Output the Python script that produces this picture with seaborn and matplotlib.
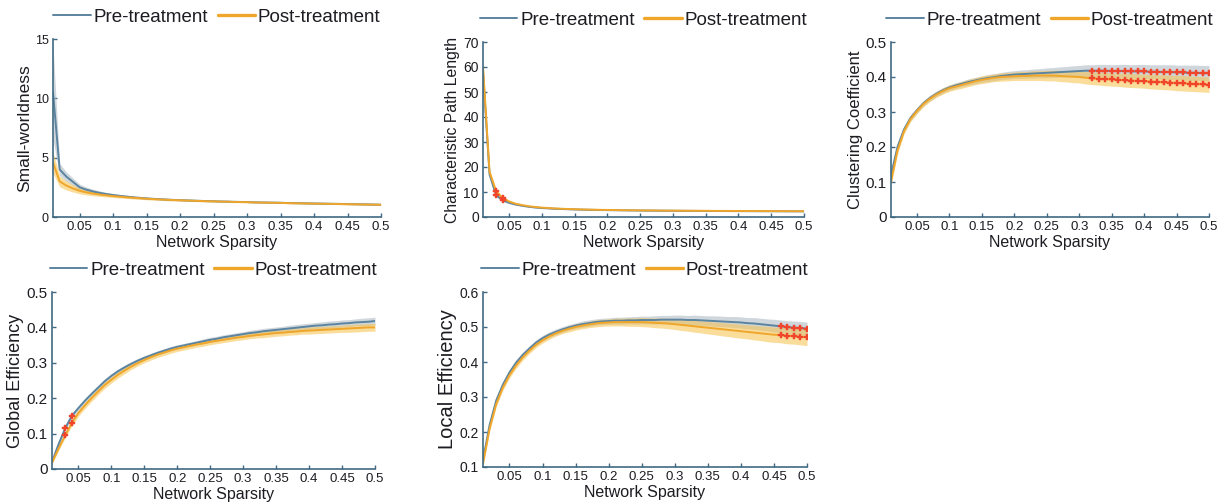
import numpy as np
import pandas as pd
import matplotlib
matplotlib.use("Agg")
import matplotlib.pyplot as plt
from matplotlib.lines import Line2D
import seaborn as sns

# ---------------- data ----------------
sparsity = [round(0.01 * i, 2) for i in range(1, 51)]

sw_pre = [10.5, 4.0, 3.4, 2.95, 2.5, 2.3, 2.15, 2.03, 1.93, 1.85,
          1.78, 1.72, 1.66, 1.61, 1.57, 1.53, 1.50, 1.47, 1.44, 1.42,
          1.40, 1.38, 1.36, 1.34, 1.33, 1.31, 1.30, 1.28, 1.27, 1.26,
          1.24, 1.23, 1.22, 1.21, 1.20, 1.18, 1.17, 1.16, 1.15, 1.14,
          1.13, 1.12, 1.11, 1.10, 1.09, 1.08, 1.07, 1.06, 1.05, 1.04]
sw_post = [4.6, 3.0, 2.65, 2.4, 2.2, 2.07, 1.97, 1.89, 1.82, 1.76,
           1.71, 1.66, 1.62, 1.58, 1.54, 1.51, 1.48, 1.45, 1.43, 1.41,
           1.39, 1.37, 1.35, 1.33, 1.32, 1.30, 1.29, 1.27, 1.26, 1.25,
           1.23, 1.22, 1.21, 1.20, 1.19, 1.17, 1.16, 1.15, 1.14, 1.13,
           1.12, 1.11, 1.10, 1.09, 1.08, 1.07, 1.06, 1.05, 1.04, 1.03]
sw_pre_sd = [4.0, 0.5, 0.4, 0.32, 0.26, 0.22, 0.19, 0.16, 0.14, 0.12,
             0.11, 0.10, 0.10, 0.09, 0.09, 0.08, 0.08, 0.08, 0.07, 0.07,
             0.07, 0.07, 0.06, 0.06, 0.06, 0.06, 0.06, 0.06, 0.05, 0.05,
             0.05, 0.05, 0.05, 0.05, 0.05, 0.05, 0.05, 0.05, 0.05, 0.05,
             0.05, 0.05, 0.05, 0.05, 0.05, 0.05, 0.05, 0.05, 0.05, 0.05]
sw_post_sd = [0.9, 0.45, 0.38, 0.3, 0.25, 0.21, 0.18, 0.15, 0.13, 0.12,
              0.11, 0.10, 0.10, 0.09, 0.09, 0.08, 0.08, 0.08, 0.07, 0.07,
              0.07, 0.07, 0.06, 0.06, 0.06, 0.06, 0.06, 0.06, 0.05, 0.05,
              0.05, 0.05, 0.05, 0.05, 0.05, 0.05, 0.05, 0.05, 0.05, 0.05,
              0.05, 0.05, 0.05, 0.05, 0.05, 0.05, 0.05, 0.05, 0.05, 0.05]

pl_pre = [58.0, 17.0, 8.8, 6.7, 5.7, 5.0, 4.5, 4.1, 3.8, 3.6,
          3.45, 3.3, 3.2, 3.1, 3.02, 2.95, 2.89, 2.84, 2.79, 2.75,
          2.71, 2.68, 2.65, 2.62, 2.59, 2.57, 2.55, 2.53, 2.51, 2.49,
          2.47, 2.46, 2.44, 2.43, 2.41, 2.40, 2.39, 2.38, 2.36, 2.35,
          2.34, 2.33, 2.32, 2.31, 2.30, 2.29, 2.28, 2.27, 2.26, 2.25]
pl_post = [60.0, 18.0, 10.3, 7.6, 6.2, 5.3, 4.75, 4.3, 4.0, 3.75,
           3.58, 3.42, 3.3, 3.2, 3.11, 3.04, 2.97, 2.91, 2.86, 2.82,
           2.78, 2.74, 2.71, 2.68, 2.65, 2.63, 2.61, 2.58, 2.56, 2.55,
           2.53, 2.51, 2.50, 2.48, 2.47, 2.45, 2.44, 2.43, 2.42, 2.40,
           2.39, 2.38, 2.37, 2.36, 2.35, 2.34, 2.33, 2.32, 2.31, 2.30]
pl_pre_sd = [3.0, 1.2, 0.8, 0.5, 0.4, 0.3, 0.25, 0.2, 0.18, 0.16,
             0.15, 0.14, 0.13, 0.12, 0.11, 0.1, 0.1, 0.1, 0.09, 0.09,
             0.09, 0.09, 0.08, 0.08, 0.08, 0.08, 0.08, 0.08, 0.07, 0.07,
             0.07, 0.07, 0.07, 0.07, 0.07, 0.07, 0.07, 0.07, 0.07, 0.07,
             0.07, 0.07, 0.07, 0.07, 0.07, 0.07, 0.07, 0.07, 0.07, 0.07]
pl_post_sd = pl_pre_sd

cc_pre = [0.12, 0.20, 0.25, 0.283, 0.305, 0.325, 0.34, 0.352, 0.362, 0.370,
          0.376, 0.381, 0.386, 0.390, 0.394, 0.397, 0.400, 0.403, 0.405, 0.407,
          0.408, 0.409, 0.410, 0.411, 0.412, 0.413, 0.414, 0.415, 0.416, 0.417,
          0.418, 0.418, 0.418, 0.418, 0.417, 0.417, 0.417, 0.416, 0.416, 0.416,
          0.415, 0.415, 0.414, 0.414, 0.413, 0.413, 0.412, 0.412, 0.411, 0.411]
cc_post = [0.10, 0.19, 0.245, 0.28, 0.303, 0.323, 0.338, 0.35, 0.36, 0.368,
           0.373, 0.378, 0.383, 0.388, 0.392, 0.395, 0.398, 0.400, 0.401, 0.402,
           0.403, 0.403, 0.404, 0.404, 0.404, 0.404, 0.403, 0.402, 0.401, 0.400,
           0.398, 0.396, 0.395, 0.394, 0.393, 0.392, 0.391, 0.390, 0.389, 0.388,
           0.387, 0.386, 0.385, 0.384, 0.383, 0.382, 0.381, 0.380, 0.379, 0.378]
cc_pre_sd = [0.01, 0.01, 0.008, 0.008, 0.008, 0.008, 0.008, 0.008, 0.008, 0.008,
             0.008, 0.008, 0.009, 0.009, 0.009, 0.01, 0.01, 0.01, 0.011, 0.011,
             0.012, 0.012, 0.013, 0.013, 0.014, 0.014, 0.015, 0.015, 0.016, 0.016,
             0.017, 0.017, 0.018, 0.018, 0.018, 0.019, 0.019, 0.019, 0.02, 0.02,
             0.02, 0.02, 0.021, 0.021, 0.021, 0.021, 0.022, 0.022, 0.022, 0.022]
cc_post_sd = [0.01, 0.01, 0.008, 0.008, 0.008, 0.008, 0.008, 0.008, 0.009, 0.009,
              0.009, 0.01, 0.01, 0.01, 0.011, 0.011, 0.011, 0.012, 0.012, 0.012,
              0.013, 0.013, 0.014, 0.014, 0.015, 0.015, 0.016, 0.016, 0.017, 0.017,
              0.018, 0.018, 0.018, 0.019, 0.019, 0.019, 0.02, 0.02, 0.02, 0.02,
              0.021, 0.021, 0.021, 0.021, 0.022, 0.022, 0.022, 0.022, 0.022, 0.022]

ge_pre = [0.02, 0.07, 0.115, 0.15, 0.172, 0.193, 0.212, 0.23, 0.248, 0.263,
          0.276, 0.287, 0.297, 0.306, 0.314, 0.321, 0.328, 0.334, 0.34, 0.345,
          0.349, 0.353, 0.357, 0.361, 0.365, 0.368, 0.372, 0.375, 0.378, 0.381,
          0.384, 0.386, 0.389, 0.391, 0.393, 0.395, 0.397, 0.399, 0.401, 0.403,
          0.405, 0.406, 0.408, 0.409, 0.411, 0.412, 0.414, 0.415, 0.416, 0.418]
ge_post = [0.018, 0.058, 0.095, 0.13, 0.158, 0.18, 0.2, 0.219, 0.237, 0.252,
           0.266, 0.278, 0.289, 0.299, 0.308, 0.316, 0.323, 0.329, 0.335, 0.34,
           0.344, 0.348, 0.352, 0.355, 0.359, 0.362, 0.365, 0.368, 0.371, 0.373,
           0.376, 0.378, 0.38, 0.382, 0.384, 0.385, 0.387, 0.388, 0.39, 0.391,
           0.392, 0.393, 0.394, 0.395, 0.396, 0.397, 0.398, 0.399, 0.4, 0.4]
ge_pre_sd = [0.004, 0.005, 0.005, 0.006, 0.006, 0.006, 0.006, 0.006, 0.006, 0.006,
             0.006, 0.006, 0.006, 0.006, 0.006, 0.006, 0.006, 0.006, 0.006, 0.006,
             0.006, 0.006, 0.006, 0.007, 0.007, 0.007, 0.007, 0.007, 0.007, 0.007,
             0.008, 0.008, 0.008, 0.008, 0.008, 0.008, 0.009, 0.009, 0.009, 0.009,
             0.009, 0.01, 0.01, 0.01, 0.01, 0.01, 0.01, 0.011, 0.011, 0.011]
ge_post_sd = [0.004, 0.006, 0.007, 0.008, 0.009, 0.009, 0.009, 0.009, 0.009, 0.009,
              0.009, 0.009, 0.008, 0.008, 0.008, 0.008, 0.008, 0.008, 0.008, 0.008,
              0.008, 0.008, 0.008, 0.008, 0.008, 0.008, 0.008, 0.008, 0.008, 0.008,
              0.008, 0.008, 0.009, 0.009, 0.009, 0.009, 0.009, 0.009, 0.009, 0.01,
              0.01, 0.01, 0.01, 0.01, 0.01, 0.011, 0.011, 0.011, 0.011, 0.011]

le_pre = [0.12, 0.22, 0.29, 0.335, 0.37, 0.398, 0.42, 0.438, 0.455, 0.468,
          0.478, 0.486, 0.493, 0.499, 0.504, 0.508, 0.511, 0.514, 0.516, 0.517,
          0.518, 0.518, 0.519, 0.519, 0.52, 0.52, 0.52, 0.521, 0.521, 0.521,
          0.521, 0.52, 0.52, 0.519, 0.518, 0.517, 0.516, 0.515, 0.514, 0.513,
          0.511, 0.51, 0.508, 0.506, 0.504, 0.502, 0.5, 0.498, 0.497, 0.495]
le_post = [0.11, 0.21, 0.28, 0.327, 0.362, 0.39, 0.413, 0.432, 0.449, 0.462,
           0.473, 0.482, 0.489, 0.495, 0.5, 0.504, 0.507, 0.51, 0.512, 0.513,
           0.514, 0.514, 0.514, 0.514, 0.514, 0.513, 0.512, 0.511, 0.51, 0.508,
           0.506, 0.504, 0.502, 0.5, 0.498, 0.496, 0.494, 0.492, 0.49, 0.488,
           0.486, 0.484, 0.482, 0.48, 0.478, 0.477, 0.475, 0.474, 0.472, 0.471]
le_pre_sd = [0.008, 0.008, 0.008, 0.008, 0.008, 0.008, 0.008, 0.008, 0.008, 0.008,
             0.008, 0.008, 0.008, 0.008, 0.008, 0.009, 0.009, 0.009, 0.009, 0.009,
             0.01, 0.01, 0.01, 0.011, 0.011, 0.011, 0.012, 0.012, 0.012, 0.013,
             0.013, 0.013, 0.014, 0.014, 0.014, 0.015, 0.015, 0.015, 0.016, 0.016,
             0.016, 0.017, 0.017, 0.017, 0.018, 0.018, 0.018, 0.019, 0.019, 0.019]
le_post_sd = [0.008, 0.008, 0.008, 0.008, 0.008, 0.008, 0.008, 0.008, 0.008, 0.008,
              0.008, 0.008, 0.008, 0.009, 0.009, 0.009, 0.009, 0.01, 0.01, 0.01,
              0.011, 0.011, 0.012, 0.012, 0.013, 0.013, 0.014, 0.014, 0.015, 0.015,
              0.016, 0.016, 0.017, 0.017, 0.018, 0.018, 0.019, 0.019, 0.02, 0.02,
              0.02, 0.021, 0.021, 0.022, 0.022, 0.022, 0.023, 0.023, 0.023, 0.024]

sig_pl = [0.03, 0.04]
sig_cc = [round(0.32 + 0.01 * i, 2) for i in range(19)]
sig_ge = [0.03, 0.04]
sig_le = [0.46, 0.47, 0.48, 0.49, 0.50]

groups = ["Pre-treatment", "Post-treatment"]
x_ticks = [0.05, 0.1, 0.15, 0.2, 0.25, 0.3, 0.35, 0.4, 0.45, 0.5]
x_tick_labels = ["0.05", "0.1", "0.15", "0.2", "0.25", "0.3", "0.35", "0.4", "0.45", "0.5"]

# ---------------- style ----------------
sns.set_theme(style="ticks")
plt.rcParams["font.family"] = ["Liberation Sans", "DejaVu Sans"]

PRE_C = "#5b84a0"
POST_C = "#efa62a"
PRE_BAND = "#aab6c0"
POST_BAND = "#f6c14a"
SPINE_C = "#3f6983"
SIG_C = "#f0452a"
TEXT_C = "#1c1c22"

fig = plt.figure(figsize=(12.21, 5.04), dpi=100)

panels = [
    dict(pre=sw_pre, post=sw_post, pre_sd=sw_pre_sd, post_sd=sw_post_sd, sig=[],
         ylabel="Small-worldness", ylfs=12.5, ytfs=9, ylim=(0, 15), yticks=[0, 5, 10, 15],
         yticklabels=["0", "5", "10", "15"], pos=[53, 39, 381, 217]),
    dict(pre=pl_pre, post=pl_post, pre_sd=pl_pre_sd, post_sd=pl_post_sd, sig=sig_pl,
         ylabel="Characteristic Path Length", ylfs=11.3, ytfs=10, ylim=(0, 70),
         yticks=[0, 10, 20, 30, 40, 50, 60, 70],
         yticklabels=["0", "10", "20", "30", "40", "50", "60", "70"], pos=[483, 42, 804, 217]),
    dict(pre=cc_pre, post=cc_post, pre_sd=cc_pre_sd, post_sd=cc_post_sd, sig=sig_cc,
         ylabel="Clustering Coefficient", ylfs=12, ytfs=11, ylim=(0, 0.5),
         yticks=[0, 0.1, 0.2, 0.3, 0.4, 0.5],
         yticklabels=["0", "0.1", "0.2", "0.3", "0.4", "0.5"], pos=[891, 42, 1209, 217]),
    dict(pre=ge_pre, post=ge_post, pre_sd=ge_pre_sd, post_sd=ge_post_sd, sig=sig_ge,
         ylabel="Global Efficiency", ylfs=13, ytfs=11, ylim=(0, 0.5),
         yticks=[0, 0.1, 0.2, 0.3, 0.4, 0.5],
         yticklabels=["0", "0.1", "0.2", "0.3", "0.4", "0.5"], pos=[52, 292, 375, 469]),
    dict(pre=le_pre, post=le_post, pre_sd=le_pre_sd, post_sd=le_post_sd, sig=sig_le,
         ylabel="Local Efficiency", ylfs=14.5, ytfs=10, ylim=(0.1, 0.6),
         yticks=[0.1, 0.2, 0.3, 0.4, 0.5, 0.6],
         yticklabels=["0.1", "0.2", "0.3", "0.4", "0.5", "0.6"], pos=[483, 292, 807, 467]),
]

W, H = 1221, 504
for p in panels:
    l, t, r, b = p["pos"]
    ax = fig.add_axes([l / W, 1 - b / H, (r - l) / W, (b - t) / H])
    df = pd.DataFrame({
        "sparsity": sparsity * 2,
        "value": list(p["pre"]) + list(p["post"]),
        "sd": list(p["pre_sd"]) + list(p["post_sd"]),
        "group": [groups[0]] * len(sparsity) + [groups[1]] * len(sparsity),
    })
    for g, bc, a in [(groups[0], PRE_BAND, 0.55), (groups[1], POST_BAND, 0.55)]:
        d = df[df.group == g]
        ax.fill_between(d.sparsity, d.value - d.sd, d.value + d.sd, color=bc, alpha=a, lw=0)
    sns.lineplot(data=df, x="sparsity", y="value", hue="group", hue_order=groups,
                 palette=[PRE_C, POST_C], estimator=None, linewidth=1.4, legend=False, ax=ax)
    if p["sig"]:
        sd_df = df[df.sparsity.isin(p["sig"])]
        sns.scatterplot(data=sd_df, x="sparsity", y="value", marker="P", s=22,
                        color=SIG_C, edgecolor=SIG_C, linewidth=0.3, ax=ax, zorder=5)
    ax.set_xlim(0.01, 0.5)
    ax.set_ylim(*p["ylim"])
    ax.set_xticks(x_ticks)
    ax.set_xticklabels(x_tick_labels)
    ax.set_yticks(p["yticks"])
    ax.set_yticklabels(p["yticklabels"])
    ax.set_xlabel("Network Sparsity", fontsize=11.5, color=TEXT_C, labelpad=1)
    ax.set_ylabel(p["ylabel"], fontsize=p["ylfs"], color=TEXT_C, labelpad=2)
    for s in ["top", "right"]:
        ax.spines[s].set_visible(False)
    for s in ["left", "bottom"]:
        ax.spines[s].set_color(SPINE_C)
        ax.spines[s].set_linewidth(1.2)
    ax.tick_params(axis="both", direction="in", length=3, width=1.0, color=SPINE_C,
                   labelcolor=TEXT_C, pad=3)
    ax.tick_params(axis="x", labelsize=9.5)
    ax.tick_params(axis="y", labelsize=p["ytfs"])
    ax.set_facecolor("white")
    handles = [Line2D([0], [0], color=PRE_C, lw=1.4),
               Line2D([0], [0], color=POST_C, lw=2.4)]
    ax.legend(handles, groups, loc="lower center", bbox_to_anchor=(0.5, 1.0), ncol=2,
              frameon=False, fontsize=13.5, handlelength=2.0, handletextpad=0.15,
              columnspacing=0.5, borderaxespad=0.3, labelcolor=TEXT_C)

fig.savefig("out.png", dpi=100, facecolor="white")
